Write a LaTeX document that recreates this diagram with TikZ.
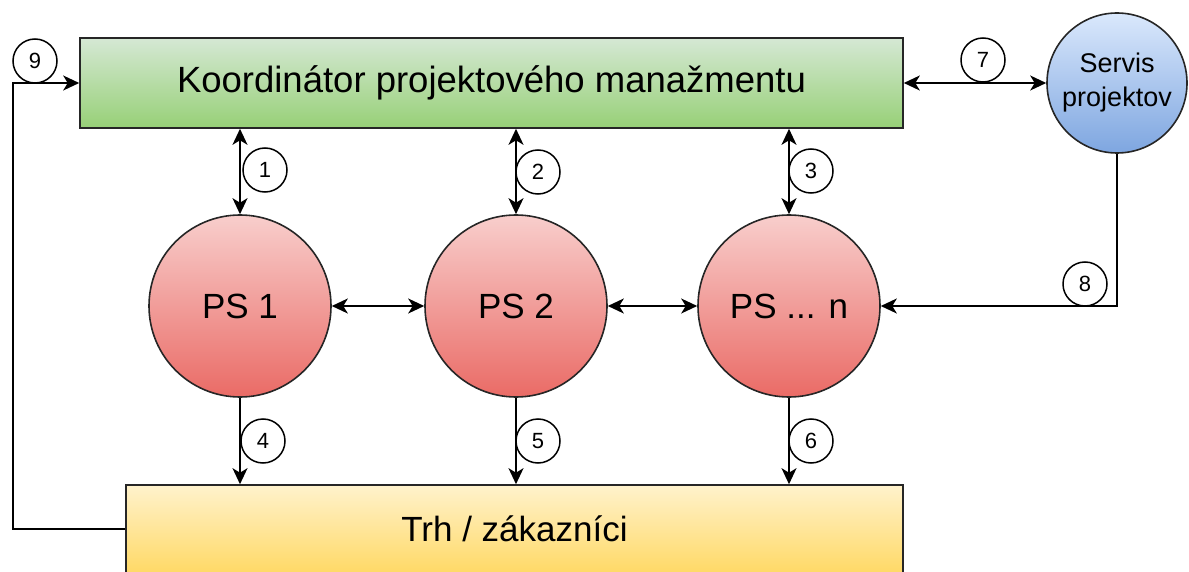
\documentclass[tikz,border=0pt]{standalone}
\usepackage{fontspec}
\setmainfont{Liberation Sans}
\usetikzlibrary{arrows.meta}
\definecolor{gtop}{HTML}{D5E8D4}
\definecolor{gbot}{HTML}{97D077}
\definecolor{rtop}{HTML}{F8CECC}
\definecolor{rbot}{HTML}{EA6B66}
\definecolor{btop}{HTML}{DAE8FC}
\definecolor{bbot}{HTML}{7EA6E0}
\definecolor{ytop}{HTML}{FFF2CC}
\definecolor{ybot}{HTML}{FFD966}
\tikzset{
  box/.style={draw=black!85, line width=1.6pt, rectangle, inner sep=0pt},
  psnode/.style={draw=black!85, line width=1.6pt, circle, minimum size=182pt, inner sep=0pt,
    top color=rtop, bottom color=rbot, font=\fontsize{35}{40}\selectfont},
  numlabel/.style={draw=black, line width=1.5pt, circle, fill=white, minimum size=44pt, inner sep=0pt,
    font=\fontsize{22}{24}\selectfont},
  conn/.style={line width=1.8pt, draw=black},
  tip/.tip={Stealth[length=16pt, width=15pt, inset=4.5pt]},
  dbl/.style={conn, tip-tip},
  one/.style={conn, -tip},
}
\begin{document}
\begin{tikzpicture}[x=1pt, y=-1pt]
\useasboundingbox (0,0) rectangle (1189,572);
% main boxes
\node[box, minimum width=823pt, minimum height=90pt, top color=gtop, bottom color=gbot,
  font=\fontsize{36.5}{40}\selectfont] (green) at (491.5,83) {Koordinátor projektového manažmentu};
\node[box, minimum width=777pt, minimum height=88pt, top color=ytop, bottom color=ybot,
  font=\fontsize{35}{40}\selectfont] (yellow) at (514.5,529) {Trh / zákazníci};
% circles
\node[psnode] (ps1) at (240,306) {PS 1};
\node[psnode] (ps2) at (516,306) {PS 2};
\node[psnode] (psn) at (789,306) {PS ... n};
\node[draw=black!85, line width=1.6pt, circle, minimum size=140pt, inner sep=0pt,
  top color=btop, bottom color=bbot, align=center,
  font=\fontsize{27}{34}\selectfont] (servis) at (1117,83) {Servis\\projektov};
% connectors
\draw[dbl] (ps1 |- green.south) -- (ps1.north);
\draw[dbl] (ps2 |- green.south) -- (ps2.north);
\draw[dbl] (psn |- green.south) -- (psn.north);
\draw[dbl] (ps1.east) -- (ps2.west);
\draw[dbl] (ps2.east) -- (psn.west);
\draw[one] (ps1.south) -- (ps1 |- yellow.north);
\draw[one] (ps2.south) -- (ps2 |- yellow.north);
\draw[one] (psn.south) -- (psn |- yellow.north);
\draw[dbl] (green.east) -- (servis.west);
\draw[one] (servis.south) |- (psn.east);
\coordinate (c9) at (13,529);
\draw[one] (yellow.west) -- (c9) |- (green.west);
% number labels
\node[numlabel] (n1) at (265,170) {1};
\node[numlabel] (n2) at (538,172) {2};
\node[numlabel] (n3) at (811,171) {3};
\node[numlabel] (n4) at (263,441) {4};
\node[numlabel] (n5) at (538,441) {5};
\node[numlabel] (n6) at (811,441) {6};
\node[numlabel] (n7) at (983,60) {7};
\node[numlabel] (n8) at (1085,284) {8};
\node[numlabel] (n9) at (35,61) {9};
\end{tikzpicture}
\end{document}
